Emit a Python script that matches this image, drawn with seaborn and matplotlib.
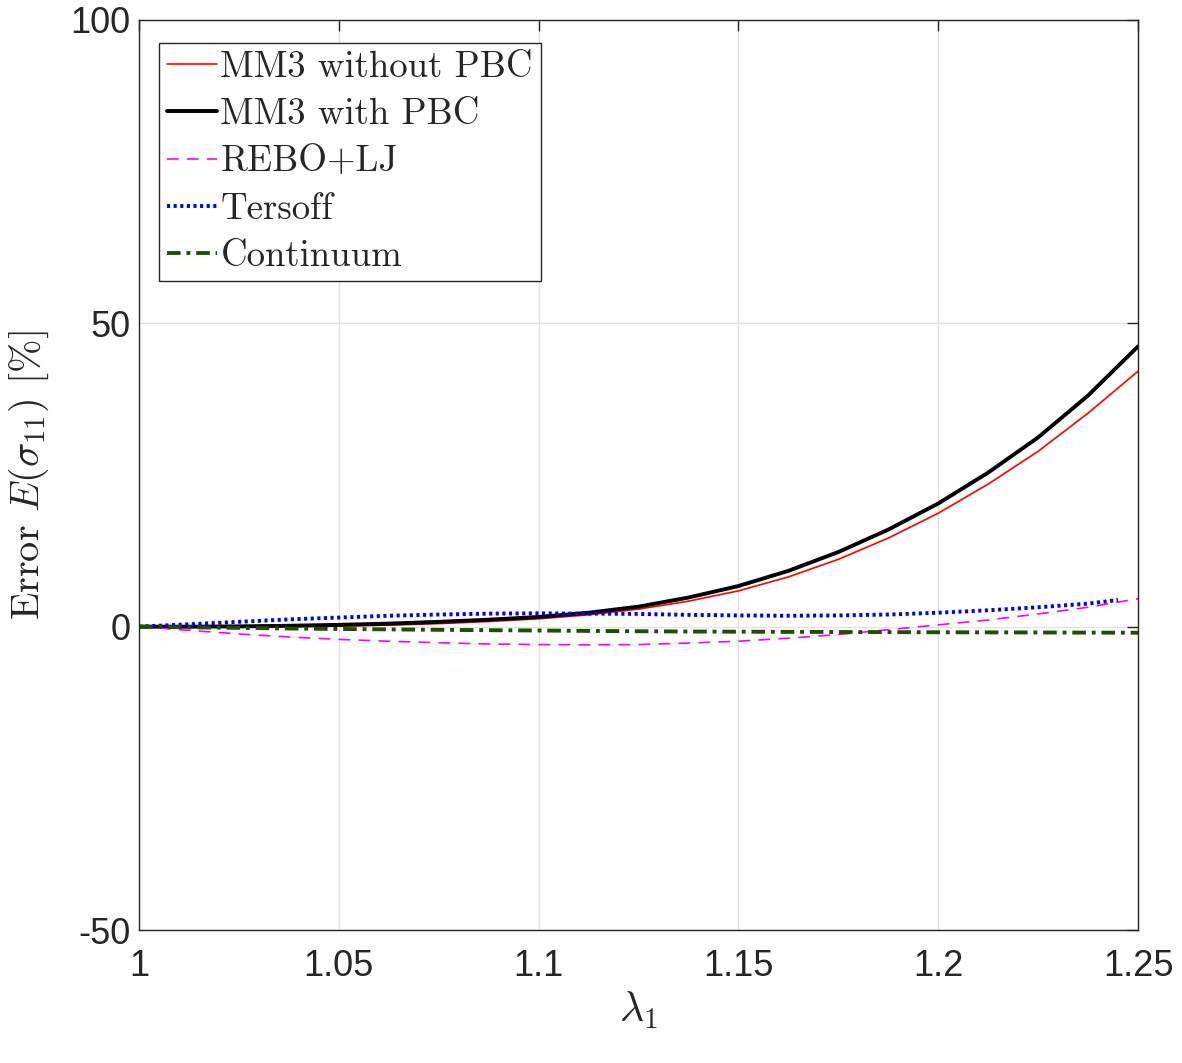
import matplotlib
matplotlib.use("Agg")
import matplotlib.pyplot as plt
import seaborn as sns
import pandas as pd

# stretch values (lambda_1)
lam = [1.0, 1.0125, 1.025, 1.0375, 1.05, 1.0625, 1.075, 1.0875, 1.1, 1.1125, 1.125,
       1.1375, 1.15, 1.1625, 1.175, 1.1875, 1.2, 1.2125, 1.225, 1.2375, 1.25]
lam_tersoff = lam[:-1] + [1.245]

# error values [%]
mm3_no_pbc = [0, -0.05, -0.05, 0.0, 0.1, 0.25, 0.5, 0.85, 1.3, 1.95, 2.9,
              4.2, 5.9, 8.2, 11.1, 14.6, 18.7, 23.5, 28.9, 35.2, 42.1]
mm3_pbc = [0, 0.0, 0.05, 0.15, 0.3, 0.5, 0.8, 1.15, 1.6, 2.3, 3.3,
           4.8, 6.7, 9.2, 12.3, 16.0, 20.3, 25.4, 31.2, 38.1, 46.2]
rebo_lj = [0, -0.6, -1.2, -1.7, -2.1, -2.4, -2.65, -2.85, -2.95, -3.0, -2.95,
           -2.7, -2.4, -1.9, -1.3, -0.5, 0.3, 1.1, 2.1, 3.2, 4.6]
tersoff = [0, 0.4, 0.8, 1.2, 1.5, 1.8, 2.0, 2.15, 2.2, 2.15, 2.1,
           1.95, 1.85, 1.8, 1.85, 2.0, 2.3, 2.7, 3.2, 3.8, 4.4]
continuum = [0, -0.1, -0.2, -0.3, -0.38, -0.45, -0.52, -0.58, -0.63, -0.7, -0.75,
             -0.8, -0.83, -0.86, -0.88, -0.9, -0.92, -0.94, -0.96, -0.98, -1.0]

xticks = [1.0, 1.05, 1.1, 1.15, 1.2, 1.25]
xtick_labels = ["1", "1.05", "1.1", "1.15", "1.2", "1.25"]
yticks = [-50, 0, 50, 100]
ytick_labels = ["-50", "0", "50", "100"]

sns.set_style("white")
plt.rcParams["mathtext.fontset"] = "cm"
plt.rcParams["axes.unicode_minus"] = False
plt.rcParams["font.family"] = ["Liberation Sans", "DejaVu Sans"]

fig = plt.figure(figsize=(11.82, 10.63), dpi=100)
ax = fig.add_axes([0.1176, 0.1251, 0.8452, 0.8561])

series = [
    ("MM3 without PBC", lam, mm3_no_pbc, dict(color="#ff0000", lw=1.2, ls="-")),
    ("MM3 with PBC", lam, mm3_pbc, dict(color="black", lw=2.8, ls="-")),
    ("REBO+LJ", lam, rebo_lj, dict(color="#ff00ff", lw=1.2, ls=(0, (7, 5)))),
    ("Tersoff", lam_tersoff, tersoff, dict(color="#0000ff", lw=2.8, ls=(0, (0.8, 0.9)))),
    ("Continuum", lam, continuum, dict(color="#1f5000", lw=2.8, ls=(0, (3.5, 1.5, 1, 1.5)))),
]
for name, xs, ys, st in series:
    df = pd.DataFrame({"lam": xs, "err": ys})
    sns.lineplot(data=df, x="lam", y="err", ax=ax, label=name,
                 color=st["color"], linewidth=st["lw"], linestyle=st["ls"])

ax.set_xlim(1.0, 1.25)
ax.set_ylim(-50, 100)
ax.set_xticks(xticks)
ax.set_xticklabels(xtick_labels)
ax.set_yticks(yticks)
ax.set_yticklabels(ytick_labels)
ax.tick_params(direction="in", length=8, width=1, colors="#262626", labelsize=26,
               top=True, right=True)
ax.tick_params(axis="x", pad=14)
ax.tick_params(axis="y", pad=6)
ax.grid(True, color="#e3e3e3", linewidth=1)
for sp in ax.spines.values():
    sp.set_color("#262626")
    sp.set_linewidth(1)

ax.set_xlabel(r"$\lambda_1$", fontsize=30, labelpad=4)
ax.set_ylabel(r"Error $E(\sigma_{11})$ [%]", fontsize=29, family="cmr10", labelpad=14)

leg = ax.legend(loc="upper left", bbox_to_anchor=(0.02, 0.975),
                handlelength=1.35, handletextpad=0.1, labelspacing=0.38,
                borderpad=0.22, borderaxespad=0, fancybox=False, framealpha=1,
                edgecolor="#262626", prop={"family": "cmr10", "size": 26.5})
leg.get_frame().set_linewidth(1)

fig.savefig("out.png", dpi=100)
